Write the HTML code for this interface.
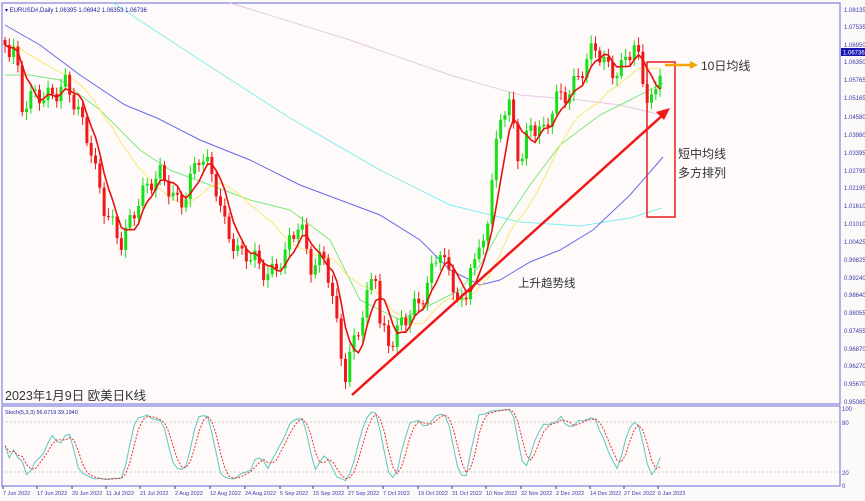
<!DOCTYPE html>
<html><head><meta charset="utf-8"><style>
html,body{margin:0;padding:0;background:#fff;}
svg{display:block;font-family:"Liberation Sans","Noto Sans CJK SC",sans-serif;}
</style></head><body>
<svg id="s" width="865" height="501" xmlns="http://www.w3.org/2000/svg">
<rect width="865" height="501" fill="#fcfaf9"/>
<rect x="2" y="3" width="838" height="401" fill="#fdfaf9" stroke="#6868d8" stroke-width="1"/>
<rect x="2" y="406" width="838" height="80" fill="#fdfaf9" stroke="#6868d8" stroke-width="1"/>
<line x1="2" y1="422" x2="840" y2="422" stroke="#ccc" stroke-dasharray="2,2"/>
<line x1="2" y1="472" x2="840" y2="472" stroke="#ccc" stroke-dasharray="2,2"/>
<g id="g"></g>
<g font-size="6" fill="#3a3ab0">
<text x="844" y="12">1.08135</text><text x="844" y="29">1.07535</text><text x="844" y="47">1.06950</text>
<text x="844" y="64">1.06350</text><text x="844" y="82">1.05765</text><text x="844" y="100">1.05165</text>
<text x="844" y="119">1.04580</text><text x="844" y="137">1.03980</text><text x="844" y="155">1.03395</text>
<text x="844" y="173">1.02795</text><text x="844" y="190">1.02195</text><text x="844" y="208">1.01610</text>
<text x="844" y="226">1.01010</text><text x="844" y="244">1.00425</text><text x="844" y="262">0.99825</text>
<text x="844" y="280">0.99240</text><text x="844" y="297">0.98640</text><text x="844" y="315">0.98055</text>
<text x="844" y="333">0.97455</text><text x="844" y="351">0.96870</text><text x="844" y="368">0.96270</text>
<text x="844" y="386">0.95670</text><text x="844" y="404">0.95085</text>
<text x="842" y="411">100</text><text x="842" y="425">80</text><text x="842" y="475">20</text><text x="842" y="488">0</text>
</g>
<rect x="841" y="48" width="24" height="8" fill="#1818b0"/>
<text x="843" y="54.5" font-size="6" fill="#fff">1.06736</text>
<text x="5" y="12" font-size="6" fill="#1a1aa0">▾ EURUSD#,Daily  1.06395 1.06942 1.06353 1.06736</text>
<text x="5" y="414" font-size="5.5" fill="#1a1aa0">Stoch(5,3,3) 56.6719 39.1940</text>
<text x="5" y="400" font-size="12.5" fill="#333">2023年1月9日 欧美日K线</text>
<g font-size="5.5" fill="#3a3ab0" id="dates"></g>
<g id="ann">
<line x1="352" y1="395" x2="664" y2="114" stroke="#f01818" stroke-width="2.5"/>
<polygon points="670,108 656,112 664,120" fill="#f01818"/>
<rect x="647" y="62" width="28" height="155" fill="none" stroke="#e81c1c" stroke-width="1.5"/>
<line x1="665" y1="65" x2="692" y2="65" stroke="#f5a500" stroke-width="2.5"/>
<polygon points="698,65 690,61 690,69" fill="#f5a500"/>
<text x="701" y="70" font-size="12" fill="#333">10日均线</text>
<text x="678" y="158" font-size="12" fill="#333">短中均线</text>
<text x="678" y="177" font-size="12" fill="#333">多方排列</text>
<text x="518" y="287" font-size="11.5" fill="#333">上升趋势线</text>
</g>
</svg>
<script>
const NS="http://www.w3.org/2000/svg",g=document.getElementById('g');
function el(t,a,p){const e=document.createElementNS(NS,t);for(const k in a)e.setAttribute(k,a[k]);(p||g).appendChild(e);return e;}
const kp=[[5,40],[15,45],[22,110],[35,100],[50,90],[65,85],[75,110],[90,140],[105,210],[120,250],[130,220],[140,190],[160,180],[180,200],[200,160],[215,180],[225,220],[240,260],[255,260],[270,270],[285,260],[300,220],[310,260],[325,260],[335,320],[345,375],[355,330],[365,310],[375,270],[380,330],[390,340],[400,320],[420,310],[440,240],[450,280],[465,320],[470,260],[480,250],[490,200],[500,120],[510,110],[520,160],[530,120],[545,140],[555,100],[565,90],[575,80],[585,70],[595,50],[605,60],[620,70],[635,50],[645,90],[655,95],[662,55]];
function interp(x){for(let i=1;i<kp.length;i++){if(x<=kp[i][0]){const a=kp[i-1],b=kp[i];return a[1]+(b[1]-a[1])*(x-a[0])/(b[0]-a[0]);}}return kp[kp.length-1][1];}
const N=153,step=4.31,xs=[],C=[],O=[],H=[],L=[];
let prev=40;
for(let i=0;i<N;i++){const x=5+i*step;xs.push(x);const c=interp(x)+9*Math.sin(i*1.7)+6*Math.sin(i*0.63+1);
O.push(prev);C.push(c);H.push(Math.min(prev,c)-3-5*Math.abs(Math.sin(i*2.3)));L.push(Math.max(prev,c)+3+5*Math.abs(Math.cos(i*1.9)));prev=c;}
function pl(pts,col,w){el('polyline',{points:pts.map(p=>p[0].toFixed(1)+','+p[1].toFixed(1)).join(' '),fill:'none',stroke:col,'stroke-width':w||1});}
function ma(n){const r=[];for(let i=0;i<N;i++){let s=0;for(let j=i-n+1;j<=i;j++)s+=C[Math.max(0,j)];r.push([xs[i],s/n]);}return r;}
pl([[113,3],[200,60],[290,118],[380,170],[450,205],[520,222],[580,226],[630,218],[662,208]],'#7ff0f0');
pl([[230,3],[350,40],[450,75],[520,95],[580,100],[620,105],[662,115]],'#e8c8e8');
pl([[5,25],[40,45],[80,75],[125,105],[157,118],[200,140],[250,160],[300,185],[340,200],[380,215],[420,240],[450,270],[480,285],[500,280],[530,262],[560,250],[593,230],[630,195],[663,157]],'#6a6ae8');
pl([[5,75],[30,75],[60,80],[100,110],[140,150],[170,170],[210,185],[250,200],[290,210],[330,240],[360,300],[400,320],[430,305],[460,290],[480,265],[500,230],[530,185],[560,145],[600,115],[630,100],[663,83]],'#7ee87e');
pl(ma(20),'#f8e870');
for(let i=0;i<N;i++){const up=C[i]<O[i],col=up?'#16e016':'#f01818',x=xs[i];
el('line',{x1:x,x2:x,y1:H[i],y2:L[i],stroke:col,'stroke-width':1});
const t=Math.min(O[i],C[i]),b=Math.max(O[i],C[i]);el('rect',{x:x-1.5,y:t,width:3,height:Math.max(1,b-t),fill:col});}
pl(ma(5),'#e81010',1.6);
const K=[];for(let i=0;i<N;i++){let hh=1e9,ll=-1e9;for(let j=Math.max(0,i-4);j<=i;j++){hh=Math.min(hh,H[j]);ll=Math.max(ll,L[j]);}K.push(100*(ll-C[i])/(ll-hh||1));}
function sm(a,n){return a.map((v,i)=>{let s=0,c=0;for(let j=Math.max(0,i-n+1);j<=i;j++){s+=a[j];c++;}return s/c;});}
const Ks=sm(K,3),D=sm(Ks,3),sy=v=>485-v*0.79;
el('polyline',{points:Ks.map((v,i)=>xs[i]+','+sy(v)).join(' '),fill:'none',stroke:'#5cc8c0','stroke-width':1});
el('polyline',{points:D.map((v,i)=>xs[i]+','+sy(v)).join(' '),fill:'none',stroke:'#e83030','stroke-width':1,'stroke-dasharray':'2,1.5'});
const dl=[["7 Jun 2022",3],["17 Jun 2022",37],["29 Jun 2022",72],["11 Jul 2022",106],["21 Jul 2022",140],["2 Aug 2022",175],["12 Aug 2022",210],["24 Aug 2022",245],["5 Sep 2022",280],["15 Sep 2022",313],["27 Sep 2022",348],["7 Oct 2022",383],["19 Oct 2022",418],["31 Oct 2022",452],["10 Nov 2022",486],["22 Nov 2022",521],["2 Dec 2022",556],["14 Dec 2022",590],["27 Dec 2022",624],["6 Jan 2023",658]];
const dg=document.getElementById('dates');
dl.forEach(d=>{const t=el('text',{x:d[1],y:495},dg);t.textContent=d[0];el('line',{x1:d[1],x2:d[1],y1:486,y2:489,stroke:'#3a3ab0'},dg);});
</script>
</body></html>
